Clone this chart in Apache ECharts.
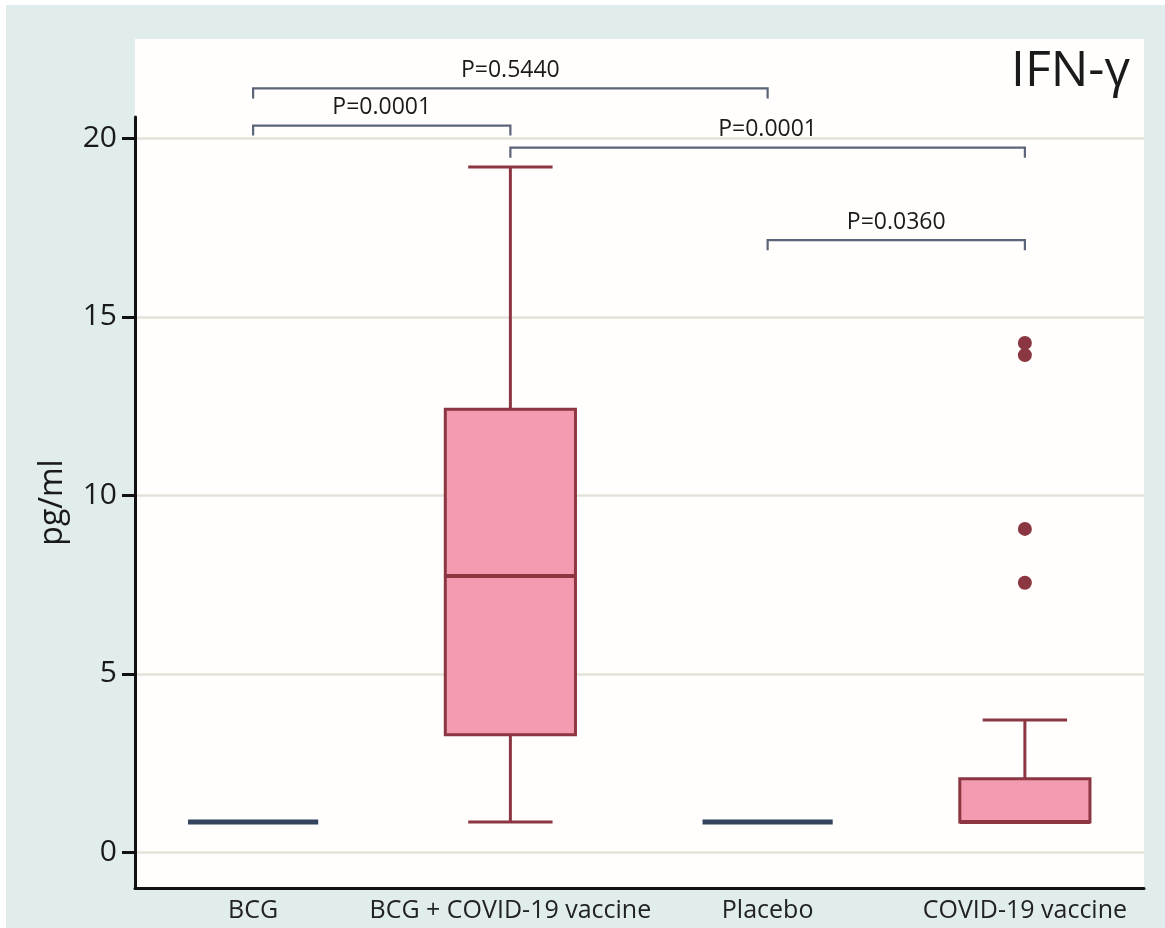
<!DOCTYPE html>
<html>
<head>
<meta charset="utf-8">
<script src="https://cdn.jsdelivr.net/npm/echarts@6/dist/echarts.min.js"></script>
<style>
  html, body { margin: 0; padding: 0; background: #ffffff; }
  #bg { position: absolute; left: 6px; top: 5px; width: 1159px; height: 923px; background: #e1ecec; }
  #chart { position: absolute; left: 0; top: 0; width: 1165px; height: 928px; }
</style>
</head>
<body>
<div id="bg"></div>
<div id="chart"></div>
<script>
// ---- data ----
const categories = ['BCG', 'BCG + COVID-19 vaccine', 'Placebo', 'COVID-19 vaccine'];
// [lower whisker, Q1, median, Q3, upper whisker]
const boxStats = [
  [0.85, 0.85, 0.85, 0.85, 0.85],
  [0.85, 3.29, 7.74, 12.41, 19.2],
  [0.85, 0.85, 0.85, 0.85, 0.85],
  [0.85, 0.85, 0.85, 2.06, 3.71]
];
const outliers = [[3, 14.27], [3, 13.93], [3, 9.06], [3, 7.55]];
const yTicks = [0, 5, 10, 15, 20];
// comparison brackets: [from category, to category, bracket level (pg/ml)]
const bracketPairs = [[0, 2, 21.40], [0, 1, 20.36], [1, 3, 19.74], [2, 3, 17.15]];
const bracketLabels = ['P=0.5440', 'P=0.0001', 'P=0.0001', 'P=0.0360'];
const yName = 'pg/ml';
const titleText = 'IFN-γ';

const FONT = '"Open Sans", "Noto Sans", sans-serif';
const Y_MIN = -1, Y_MAX = 20.6;

const chart = echarts.init(document.getElementById('chart'), null, { renderer: 'canvas' });

const boxData = boxStats.map((s, i) => [i].concat(s));
const bracketData = bracketPairs.map((b, i) => [b[0], b[1], b[2], i]);

const option = {
  animation: false,
  title: {
    text: titleText,
    right: 30,
    top: 42,
    textStyle: { fontFamily: FONT, fontSize: 50, fontWeight: 'normal', color: '#1a1a1a' }
  },
  grid: [
    { left: 135, right: 21, top: 39, bottom: 40, show: true, backgroundColor: '#fffefc', borderWidth: 0 },
    { left: 135, right: 21, top: 117, bottom: 40 },
    { left: 124.5, right: 11.5, top: 117, bottom: 40 }
  ],
  xAxis: [
    { gridIndex: 0, type: 'value', show: false },
    { gridIndex: 1, type: 'value', min: 0, max: 1,
      axisLine: { show: true, onZero: false, lineStyle: { color: '#111', width: 3 } },
      axisTick: { show: false }, axisLabel: { show: false }, splitLine: { show: false } },
    { gridIndex: 2, type: 'category', data: categories, boundaryGap: true,
      axisLine: { show: false, onZero: false }, axisTick: { show: false }, splitLine: { show: false },
      axisLabel: { interval: 0, margin: 10, fontFamily: FONT, fontSize: 25, color: '#222' } }
  ],
  yAxis: [
    { gridIndex: 0, type: 'value', show: false },
    { gridIndex: 1, type: 'value', min: Y_MIN, max: Y_MAX,
      name: yName, nameLocation: 'middle', nameGap: 66,
      nameTextStyle: { fontFamily: FONT, fontSize: 32, color: '#1a1a1a' },
      axisLine: { show: true, onZero: false, lineStyle: { color: '#111', width: 3 } },
      axisTick: { show: true, length: 13, customValues: yTicks, lineStyle: { color: '#111', width: 3 } },
      axisLabel: { margin: 18, customValues: yTicks, fontFamily: FONT, fontSize: 30, color: '#1a1a1a' },
      splitLine: { show: true, lineStyle: { color: '#e3e3da', width: 2.5 } } },
    { gridIndex: 2, type: 'value', min: Y_MIN, max: Y_MAX, show: false }
  ],
  series: [
    {
      type: 'custom',
      xAxisIndex: 2, yAxisIndex: 2,
      data: boxData,
      z: 5,
      renderItem: function (params, api) {
        const x = api.value(0);
        const band = api.size([1, 0])[0];
        const half = band * 0.253;
        const capHalf = band * 0.164;
        const low = api.coord([x, api.value(1)]);
        const q1 = api.coord([x, api.value(2)]);
        const med = api.coord([x, api.value(3)]);
        const q3 = api.coord([x, api.value(4)]);
        const high = api.coord([x, api.value(5)]);
        const cx = low[0];
        if (api.value(2) === api.value(4)) {
          return { type: 'line', shape: { x1: cx - half, y1: med[1], x2: cx + half, y2: med[1] },
                   style: { stroke: '#34435e', lineWidth: 5 } };
        }
        const stroke = '#8b3640';
        const children = [
          { type: 'line', shape: { x1: cx, y1: high[1], x2: cx, y2: q3[1] }, style: { stroke: stroke, lineWidth: 3 } },
          { type: 'line', shape: { x1: cx - capHalf, y1: high[1], x2: cx + capHalf, y2: high[1] }, style: { stroke: stroke, lineWidth: 3 } },
          { type: 'rect', shape: { x: cx - half, y: q3[1], width: half * 2, height: q1[1] - q3[1] },
            style: { fill: '#f39bb1', stroke: stroke, lineWidth: 3 } },
          { type: 'line', shape: { x1: cx - half, y1: med[1], x2: cx + half, y2: med[1] }, style: { stroke: stroke, lineWidth: 4 } }
        ];
        if (low[1] - q1[1] > 1) {
          children.push({ type: 'line', shape: { x1: cx, y1: q1[1], x2: cx, y2: low[1] }, style: { stroke: stroke, lineWidth: 3 } });
          children.push({ type: 'line', shape: { x1: cx - capHalf, y1: low[1], x2: cx + capHalf, y2: low[1] }, style: { stroke: stroke, lineWidth: 3 } });
        }
        return { type: 'group', children: children };
      }
    },
    {
      type: 'scatter',
      xAxisIndex: 2, yAxisIndex: 2,
      data: outliers,
      symbol: 'circle',
      symbolSize: 14,
      itemStyle: { color: '#8b3741', opacity: 1 },
      z: 6
    },
    {
      type: 'custom',
      xAxisIndex: 2, yAxisIndex: 2,
      data: bracketData,
      clip: false,
      z: 7,
      renderItem: function (params, api) {
        const a = api.coord([api.value(0), api.value(2)]);
        const b = api.coord([api.value(1), api.value(2)]);
        const leg = 10;
        const label = bracketLabels[api.value(3)];
        return {
          type: 'group',
          children: [
            { type: 'polyline',
              shape: { points: [[a[0], a[1] + leg], [a[0], a[1]], [b[0], b[1]], [b[0], b[1] + leg]] },
              style: { stroke: '#5b6479', lineWidth: 2.2, fill: null } },
            { type: 'text',
              style: { x: (a[0] + b[0]) / 2, y: a[1] - 18, text: label, align: 'center', verticalAlign: 'middle',
                       fontFamily: FONT, fontSize: 23, fill: '#1a1a1a' } }
          ]
        };
      }
    }
  ]
};
chart.setOption(option);
</script>
</body>
</html>
